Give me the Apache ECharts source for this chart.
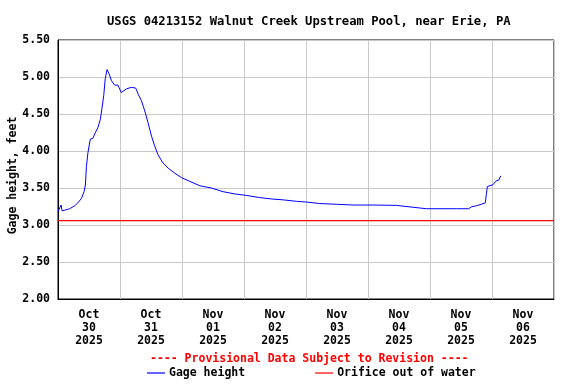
<!DOCTYPE html>
<html>
<head>
<meta charset="utf-8">
<script src="https://cdn.jsdelivr.net/npm/echarts@6/dist/echarts.min.js"></script>
<style>html,body{margin:0;padding:0;background:#fff;}#c{width:576px;height:384px;}</style>
</head>
<body>
<div id="c"></div>
<script>
// Hours since 2025-10-30 00:00
var hours = [0.0,1.2,1.6,2.6,4.5,6.5,7.7,9.1,10.1,10.6,11.0,11.6,12.5,13.5,14.2,15.5,16.4,17.0,17.7,18.3,19.0,19.7,20.7,21.9,23.2,24.5,25.2,26.5,28.4,30.1,31.0,32.3,33.6,34.8,36.2,37.4,38.7,40.6,42.6,45.2,47.8,51.0,54.9,59.4,63.9,68.4,72.9,73.5,78.1,83.2,87.1,92.3,96.2,101.3,107.8,114.2,121.9,131.0,137.4,142.6,154.2,159.0,160.0,162.0,163.9,165.4,165.8,166.2,166.7,168.4,169.4,170.7,171.4];
var gageHeight = [3.18,3.27,3.19,3.20,3.22,3.26,3.30,3.36,3.45,3.54,3.79,3.98,4.16,4.17,4.23,4.32,4.43,4.57,4.75,4.98,5.10,5.05,4.95,4.89,4.89,4.79,4.80,4.84,4.86,4.85,4.77,4.68,4.54,4.39,4.20,4.07,3.95,3.84,3.77,3.70,3.64,3.59,3.53,3.50,3.45,3.42,3.40,3.38,3.37,3.35,3.34,3.32,3.31,3.29,3.28,3.27,3.27,3.265,3.24,3.22,3.22,3.22,3.245,3.26,3.28,3.30,3.41,3.52,3.54,3.545,3.59,3.61,3.665];
var orificeHours = [0, 192];
var orificeLevel = [3.06, 3.06];
var dayLabels = ['Oct\n30\n2025','Oct\n31\n2025','Nov\n01\n2025','Nov\n02\n2025','Nov\n03\n2025','Nov\n04\n2025','Nov\n05\n2025','Nov\n06\n2025'];
var seriesNames = ['Gage height', 'Orifice out of water'];

var FONT = '"DejaVu Sans Mono", monospace';
var chart = echarts.init(document.getElementById('c'), null, {renderer: 'canvas'});
chart.setOption({
  animation: false,
  backgroundColor: '#ffffff',
  title: [
    {text: 'USGS 04213152 Walnut Creek Upstream Pool, near Erie, PA', left: 102, top: 11,
     textStyle: {fontFamily: FONT, fontSize: 12.2, fontWeight: 'bold', color: '#000'}},
    {text: '---- Provisional Data Subject to Revision ----', left: 145, top: 348,
     textStyle: {fontFamily: FONT, fontSize: 11.5, fontWeight: 'bold', color: '#ff0000'}}
  ],
  legend: {
    data: seriesNames, left: 142, top: 362, icon: 'rect', itemWidth: 18, itemHeight: 1.2,
    itemGap: 70, selectedMode: false,
    textStyle: {fontFamily: FONT, fontSize: 11.5, fontWeight: 'bold', color: '#000', padding: [0,0,0,-1]}
  },
  grid: {left: 58, right: 22, top: 40, height: 259, show: true, borderColor: '#000', borderWidth: 1,
    backgroundColor: 'transparent', outerBoundsMode: 'none', containLabel: false},
  xAxis: [
    {type: 'value', min: 0, max: 192, interval: 24,
     axisLine: {show: true, lineStyle: {color: '#000'}}, axisTick: {show: false}, axisLabel: {show: false},
     splitLine: {show: true, lineStyle: {color: '#c8c8c8', width: 1}}},
    {type: 'category', data: dayLabels, boundaryGap: true, position: 'bottom',
     axisLine: {show: false}, axisTick: {show: false}, splitLine: {show: false},
     axisLabel: {margin: 10, lineHeight: 13, fontFamily: FONT, fontSize: 11.5, fontWeight: 'bold', color: '#000'}}
  ],
  yAxis: {
    type: 'value', min: 2.0, max: 5.5, interval: 0.5,
    name: 'Gage height, feet', nameLocation: 'middle', nameGap: 39, nameMoveOverlap: false,
    nameTextStyle: {fontFamily: FONT, fontSize: 11.5, fontWeight: 'bold', color: '#000', padding: [0, 12, 0, 0]},
    axisLine: {show: true, lineStyle: {color: '#000'}}, axisTick: {show: false},
    axisLabel: {margin: 8, fontFamily: FONT, fontSize: 11.5, fontWeight: 'bold', color: '#000',
      formatter: function (v) { return v.toFixed(2); }},
    splitLine: {show: true, lineStyle: {color: '#c8c8c8', width: 1}}
  },
  series: [
    {name: seriesNames[0], type: 'line', xAxisIndex: 0, showSymbol: false, symbol: 'none',
     lineStyle: {color: '#0000ff', width: 1}, itemStyle: {color: '#0000ff'},
     data: hours.map(function (h, i) { return [h, gageHeight[i]]; })},
    {name: seriesNames[1], type: 'line', xAxisIndex: 0, showSymbol: false, symbol: 'none',
     lineStyle: {color: '#ff0000', width: 1.3}, itemStyle: {color: '#ff0000'},
     data: orificeHours.map(function (h, i) { return [h, orificeLevel[i]]; })}
  ]
});
</script>
</body>
</html>
